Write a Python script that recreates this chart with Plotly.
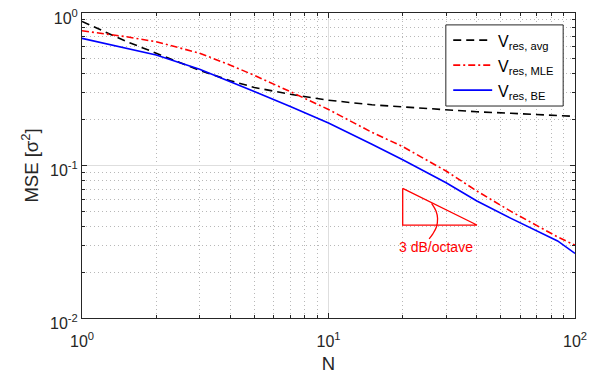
import math
import plotly.graph_objects as go

# ---- data ----
N = [1, 1.5, 2, 3, 4, 5, 7, 10, 15, 20, 30, 40, 55, 75, 85, 100]
mse_avg = [0.88, 0.655, 0.545, 0.42, 0.36, 0.325, 0.293, 0.268, 0.25, 0.242, 0.23, 0.225, 0.22, 0.215, 0.213, 0.21]
mse_mle = [0.765, 0.70, 0.648, 0.545, 0.455, 0.39, 0.305, 0.233, 0.165, 0.133, 0.092, 0.068, 0.05, 0.038, 0.034, 0.030]
mse_be = [0.682, 0.59, 0.53, 0.427, 0.356, 0.306, 0.244, 0.19, 0.138, 0.109, 0.077, 0.0585, 0.045, 0.035, 0.032, 0.0265]

names = ["V<sub>res, avg</sub>", "V<sub>res, MLE</sub>", "V<sub>res, BE</sub>"]
colors = ["#000000", "#ff0000", "#0000ff"]
dashes = ["8px,5px", "7px,3px,2px,3px", "solid"]

# slope-indicator annotation
tri_x = [20, 20, 40, 20]
tri_y = [0.0708, 0.0407, 0.0407, 0.0708]
arc_x = [26.2, 27.3, 27.7, 27.4, 26.5, 25.6]
arc_y = [0.0565, 0.0503, 0.0449, 0.0395, 0.0356, 0.033]
slope_label = "3 dB/octave"
slope_label_pos = (27.3, 0.0293)

FONT = "Liberation Sans, Arial, Helvetica, sans-serif"
AX = "#262626"

fig = go.Figure()
for ys, nm, c, d in zip([mse_avg, mse_mle, mse_be], names, colors, dashes):
    fig.add_trace(go.Scatter(x=N, y=ys, mode="lines", name=nm, showlegend=False,
                             line=dict(color=c, width=1.6, dash=d)))

fig.add_trace(go.Scatter(x=tri_x, y=tri_y, mode="lines", showlegend=False,
                         line=dict(color="#ff0000", width=1.3), hoverinfo="skip"))
fig.add_trace(go.Scatter(x=arc_x, y=arc_y, mode="lines", showlegend=False,
                         line=dict(color="#ff0000", width=1.3, shape="spline"), hoverinfo="skip"))
fig.add_annotation(x=math.log10(slope_label_pos[0]), y=math.log10(slope_label_pos[1]),
                   xref="x", yref="y", text=slope_label, showarrow=False,
                   font=dict(family=FONT, size=14, color="#ff0000"))

# ---- legend box drawn in paper coordinates ----
leg_x0, leg_x1, leg_y0, leg_y1 = 0.738, 0.976, 0.695, 0.961
fig.add_shape(type="rect", xref="paper", yref="paper", x0=leg_x0, x1=leg_x1, y0=leg_y0, y1=leg_y1,
              line=dict(color=AX, width=1), fillcolor="white", layer="above")
entry_y = [0.911, 0.829, 0.747]
for yy, nm, c, d in zip(entry_y, names, colors, dashes):
    fig.add_shape(type="line", xref="paper", yref="paper", x0=0.753, x1=0.832, y0=yy, y1=yy,
                  line=dict(color=c, width=1.6, dash=d), layer="above")
    fig.add_annotation(xref="paper", yref="paper", x=0.840, y=yy - 0.007, text=nm,
                       showarrow=False, xanchor="left", yanchor="middle",
                       font=dict(family=FONT, size=16, color="#000000"))

minor_x = [m * 10 ** d for d in range(0, 2) for m in range(2, 10)]
minor_y = [m * 10.0 ** d for d in range(-2, 0) for m in range(2, 10)]

axis_common = dict(
    type="log", showline=True, linecolor=AX, linewidth=1, mirror="ticks",
    ticks="inside", ticklen=5, tickcolor=AX, tickwidth=1,
    showgrid=True, gridcolor="#dedede", gridwidth=1,
    tickfont=dict(family=FONT, size=16, color=AX),
    zeroline=False, automargin=False, ticklabeloverflow="allow",
)
minor_common = dict(tickmode="array", ticks="inside", ticklen=3, tickcolor=AX,
                    showgrid=True, gridcolor="#b8b8b8", griddash="1px,3px", gridwidth=1)

fig.update_xaxes(**axis_common, range=[0, 2],
                 tickmode="array", tickvals=[1, 10, 100],
                 ticktext=["10<sup>0</sup>", "10<sup>1</sup>", "10<sup>2</sup>"],
                 ticklabelstandoff=9,
                 minor=dict(tickvals=minor_x, **minor_common),
                 title=dict(text="N", font=dict(family=FONT, size=18.5, color=AX), standoff=7))
fig.update_yaxes(**axis_common, range=[-2, 0],
                 tickmode="array", tickvals=[0.01, 0.1, 1],
                 ticktext=["10<sup>-2</sup>", "10<sup>-1</sup>", "10<sup>0</sup>"],
                 ticklabelshift=5,
                 minor=dict(tickvals=minor_y, **minor_common),
                 title=dict(text="MSE [σ<sup>2</sup>]", font=dict(family=FONT, size=18.5, color=AX), standoff=6))

fig.update_layout(
    width=600, height=375,
    margin=dict(l=74, r=33, t=5, b=65),
    paper_bgcolor="white", plot_bgcolor="white",
    font=dict(family=FONT, color=AX),
    showlegend=False,
)

fig.write_html("out.html")
